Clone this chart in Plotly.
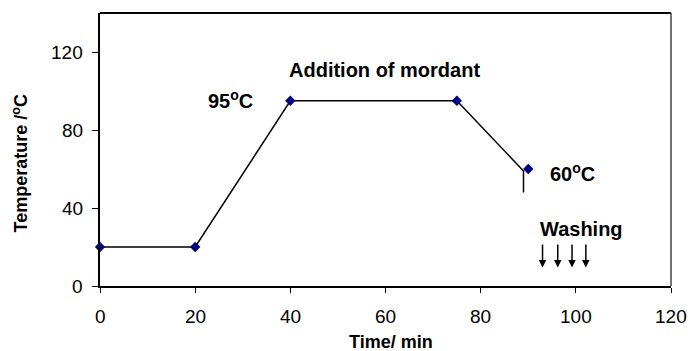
import plotly.graph_objects as go

# Temperature profile (line) and measured points (markers)
line_time = [0, 20, 40, 75, 89, 89]
line_temp = [20, 20, 95, 95, 59, 48]
point_time = [0, 20, 40, 75, 90]
point_temp = [20, 20, 95, 95, 60]

# Washing arrows
wash_x = [93, 96.2, 99.2, 102.1]
wash_top = 22
wash_bottom = 9.5

x_ticks = [0, 20, 40, 60, 80, 100, 120]
y_ticks = [0, 40, 80, 120]
x_title = "<b>Time/ min</b>"
y_title = "<b>Temperature /<sup>o</sup>C</b>"

FONT = "Liberation Sans, Arial, sans-serif"

fig = go.Figure()
fig.add_trace(go.Scatter(x=line_time, y=line_temp, mode="lines",
                         line=dict(color="black", width=1.5),
                         showlegend=False, hoverinfo="skip"))
fig.add_trace(go.Scatter(x=point_time, y=point_temp, mode="markers",
                         marker=dict(symbol="diamond", color="#000080", size=8),
                         showlegend=False, cliponaxis=False))

annotations = [
    dict(x=27.5, y=95.5, text="<b>95<sup>o</sup>C</b>"),
    dict(x=59.7, y=111, text="<b>Addition of mordant</b>"),
    dict(x=99.4, y=58, text="<b>60<sup>o</sup>C</b>"),
    dict(x=101.2, y=29.2, text="<b>Washing</b>"),
]
for a in annotations:
    fig.add_annotation(x=a["x"], y=a["y"], text=a["text"], showarrow=False,
                       xref="x", yref="y", font=dict(family=FONT, size=20, color="black"))

for wx in wash_x:
    fig.add_annotation(x=wx, y=wash_bottom, ax=wx, ay=wash_top, xref="x", yref="y",
                       axref="x", ayref="y", text="", showarrow=True,
                       arrowhead=2, arrowsize=1, arrowwidth=1.5, arrowcolor="black")

# tick labels placed as text annotations at the axis tick values
for v in y_ticks:
    fig.add_annotation(x=0, xref="paper", y=v, yref="y", text=str(v), showarrow=False,
                       xanchor="right", yanchor="middle", xshift=-15,
                       font=dict(family=FONT, size=19, color="black"))
for v in x_ticks:
    fig.add_annotation(x=v, xref="x", y=0, yref="paper", text=str(v), showarrow=False,
                       xanchor="center", yanchor="top", yshift=-18,
                       font=dict(family=FONT, size=19, color="black"))

# axis titles
fig.add_annotation(x=0.509, xref="paper", y=0, yref="paper", text=x_title, showarrow=False,
                   xanchor="center", yanchor="top", yshift=-44,
                   font=dict(family=FONT, size=18, color="black"))
fig.add_annotation(x=0, xref="paper", y=0.447, yref="paper", text=y_title, showarrow=False,
                   xanchor="center", yanchor="middle", xshift=-79.5, textangle=-90,
                   font=dict(family=FONT, size=18, color="black"))

# plot frame: top (black) and right (dark grey) edges
fig.add_shape(type="line", xref="paper", yref="paper", x0=0, x1=1, y0=1, y1=1,
              line=dict(color="black", width=2), layer="above")
fig.add_shape(type="line", xref="paper", yref="paper", x0=1, x1=1, y0=0, y1=1,
              line=dict(color="#444444", width=1.5), layer="above")

fig.update_layout(
    template="none",
    width=693, height=351,
    margin=dict(l=100, r=22, t=13, b=65),
    paper_bgcolor="white", plot_bgcolor="white",
    font=dict(family=FONT, size=19, color="black"),
    xaxis=dict(range=[0, 120], tickvals=x_ticks, showgrid=False, zeroline=False,
               showline=True, linecolor="black", linewidth=2, mirror=False,
               ticks="outside", ticklen=5, tickcolor="black", tickwidth=1,
               showticklabels=False, automargin=False),
    yaxis=dict(range=[0, 140], tickvals=y_ticks, showgrid=False, zeroline=False,
               showline=True, linecolor="black", linewidth=2, mirror=False,
               ticks="outside", ticklen=6, tickcolor="black", tickwidth=1,
               showticklabels=False, automargin=False),
)

fig.write_html("out.html", config={"displayModeBar": False},
               post_script="document.body.style.margin='0';")
